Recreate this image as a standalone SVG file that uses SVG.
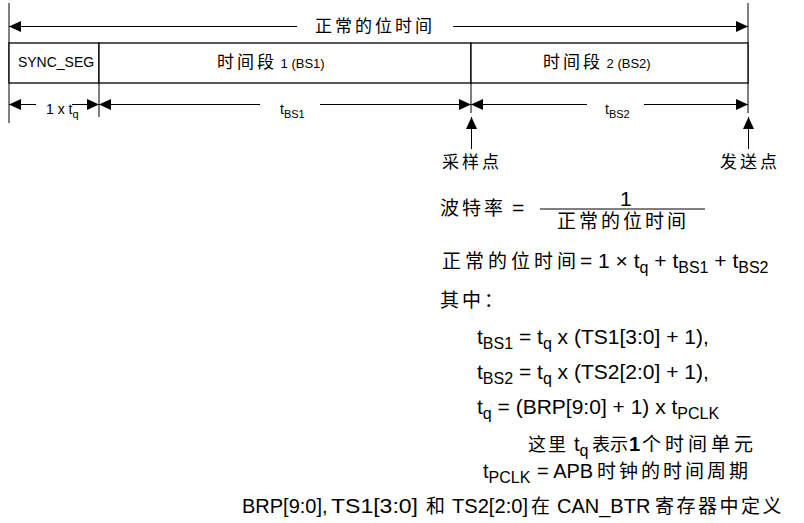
<svg xmlns="http://www.w3.org/2000/svg" width="804" height="523" viewBox="0 0 804 523">
<style>
text{font-family:"Liberation Sans","Noto Sans CJK SC",sans-serif;fill:#000}
.ln{stroke:#000;stroke-width:1;fill:none}
.bx{stroke:#000;stroke-width:1.3;fill:#fff}
.cj{font-size:17px;letter-spacing:3px}
.f{font-size:21px}
.f20{font-size:20px}
.fc{font-size:19px;letter-spacing:3px}
.s{font-size:16px}
.dim{font-size:14px}
.dsub{font-size:11px}
</style>
<defs>
<marker id="ah" markerWidth="13" markerHeight="11" refX="12" refY="5.5" orient="auto" markerUnits="userSpaceOnUse"><path d="M0,0 L12,5.5 L0,11 Z" fill="#000"/></marker>
</defs>
<g id="frame-lines">
<line class="ln" x1="9" y1="3" x2="9" y2="123"/>
<line class="ln" x1="748" y1="3" x2="748" y2="113"/>
</g>
<g id="sync-seg">
<rect class="bx" x="9" y="43" width="90" height="40"/>
<text x="56" y="67" font-size="14" text-anchor="middle">SYNC_SEG</text>
</g>
<g id="bs1">
<rect class="bx" x="99" y="43" width="372" height="40"/>
<text x="217" y="68"><tspan class="cj">时间段</tspan><tspan font-size="13"> 1 (BS1)</tspan></text>
</g>
<g id="bs2">
<rect class="bx" x="471" y="43" width="277" height="40"/>
<text x="543" y="68"><tspan class="cj">时间段</tspan><tspan font-size="13"> 2 (BS2)</tspan></text>
</g>
<g id="connectors">
<line class="ln" x1="297" y1="26.5" x2="9" y2="26.5" marker-end="url(#ah)"/>
<line class="ln" x1="453" y1="26.5" x2="748" y2="26.5" marker-end="url(#ah)"/>
<line class="ln" x1="99" y1="83" x2="99" y2="117"/>
<line class="ln" x1="471" y1="83" x2="471" y2="113"/>
<line class="ln" x1="36" y1="104.5" x2="9" y2="104.5" marker-end="url(#ah)"/>
<line class="ln" x1="72" y1="104.5" x2="99" y2="104.5" marker-end="url(#ah)"/>
<line class="ln" x1="260" y1="104.5" x2="99" y2="104.5" marker-end="url(#ah)"/>
<line class="ln" x1="320" y1="104.5" x2="471" y2="104.5" marker-end="url(#ah)"/>
<line class="ln" x1="587" y1="104.5" x2="471" y2="104.5" marker-end="url(#ah)"/>
<line class="ln" x1="644" y1="104.5" x2="748" y2="104.5" marker-end="url(#ah)"/>
<line class="ln" x1="471.5" y1="149" x2="471.5" y2="117" marker-end="url(#ah)"/>
<line class="ln" x1="748.5" y1="149" x2="748.5" y2="117" marker-end="url(#ah)"/>
</g>
<g id="labels">
<text x="315" y="32" class="cj">正常的位时间</text>
<text x="46" y="114" class="dim">1 x t<tspan class="dsub" dy="4">q</tspan></text>
<text x="280" y="114" class="dim">t<tspan class="dsub" dy="4">BS1</tspan></text>
<text x="605" y="114" class="dim">t<tspan class="dsub" dy="4">BS2</tspan></text>
<text x="442" y="168" class="cj">采样点</text>
<text x="720" y="168" class="cj">发送点</text>
</g>
<g id="formulas">
<text x="440" y="215" class="fc">波特率</text>
<text x="512" y="215" class="f">=</text>
<text x="620" y="206" class="f">1</text>
<line class="ln" x1="540" y1="209" x2="705" y2="209"/>
<text x="557" y="228" class="fc">正常的位时间</text>
<text x="442" y="268"><tspan class="fc" style="letter-spacing:4px">正常的位时间</tspan><tspan class="f" x="580">= 1 × t</tspan><tspan class="s" dy="5">q</tspan><tspan class="f" dy="-5"> + t</tspan><tspan class="s" dy="5">BS1</tspan><tspan class="f" dy="-5"> + t</tspan><tspan class="s" dy="5">BS2</tspan></text>
<text x="440" y="307" class="fc">其中：</text>
<text x="477" y="344" class="f">t<tspan class="s" dy="5">BS1</tspan><tspan dy="-5"> = t</tspan><tspan class="s" dy="5">q</tspan><tspan dy="-5"> x (TS1[3:0] + 1),</tspan></text>
<text x="477" y="379" class="f">t<tspan class="s" dy="5">BS2</tspan><tspan dy="-5"> = t</tspan><tspan class="s" dy="5">q</tspan><tspan dy="-5"> x (TS2[2:0] + 1),</tspan></text>
<text x="477" y="414" class="f">t<tspan class="s" dy="5">q</tspan><tspan dy="-5"> = (BRP[9:0] + 1) x t</tspan><tspan class="s" dy="5">PCLK</tspan></text>
<text x="528" y="451"><tspan font-size="18" letter-spacing="2">这里</tspan><tspan class="f20" x="574">t</tspan><tspan class="s" dy="5">q</tspan><tspan font-size="18" x="592" dy="-5">表示</tspan><tspan class="f20" font-weight="bold" x="629">1</tspan><tspan font-size="19" letter-spacing="4" x="642">个时间单元</tspan></text>
<text x="483" y="478"><tspan class="f20">t</tspan><tspan class="s" dy="5">PCLK</tspan><tspan class="f20" dy="-5" x="537">= APB</tspan><tspan class="fc" x="597">时钟的时间周期</tspan></text>
<text x="242" y="513"><tspan class="f20">BRP[9:0],</tspan><tspan class="f20" x="331" textLength="87" lengthAdjust="spacingAndGlyphs">TS1[3:0]</tspan><tspan class="fc" x="426">和</tspan><tspan class="f20" x="452" textLength="76" lengthAdjust="spacingAndGlyphs">TS2[2:0]</tspan><tspan font-size="19" x="531">在</tspan><tspan class="f20" x="557">CAN_BTR</tspan><tspan font-size="19" letter-spacing="2.5" x="655">寄存器中定义</tspan></text>
</g>
</svg>
